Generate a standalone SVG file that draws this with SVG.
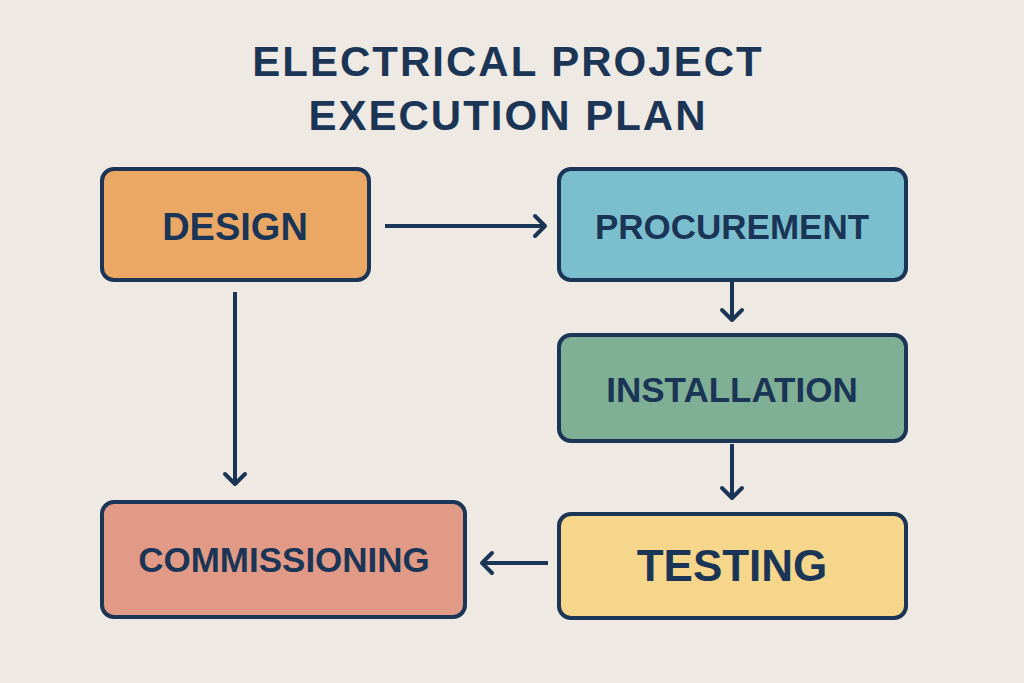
<svg xmlns="http://www.w3.org/2000/svg" width="1024" height="683" viewBox="0 0 1024 683">
<style>
.b{stroke:#1B3556;stroke-width:4}
.t{font-family:"Liberation Sans",Arial,sans-serif;font-weight:bold;fill:#1B3556;text-anchor:middle}
.c{stroke:#1B3556;stroke-width:4;fill:none;marker-end:url(#a)}
</style>
<defs><marker id="a" markerWidth="22" markerHeight="26" refX="18" refY="13" orient="auto" markerUnits="userSpaceOnUse" viewBox="0 0 22 26"><path d="M8,3 L18,13 L8,23" fill="none" stroke="#1B3556" stroke-width="4" stroke-linecap="round" stroke-linejoin="round"/></marker></defs>
<rect width="1024" height="683" fill="#EEE9E2"/>
<g id="title"><text class="t" x="508" y="76" font-size="42" letter-spacing="2">ELECTRICAL PROJECT</text><text class="t" x="508" y="130" font-size="42" letter-spacing="2">EXECUTION PLAN</text></g>
<g id="design"><rect class="b" x="102" y="169" width="267" height="111" rx="12" fill="#EBA865"/><text class="t" x="235" y="240" font-size="38">DESIGN</text></g>
<g id="procurement"><rect class="b" x="559" y="169" width="347" height="111" rx="12" fill="#7BBFCF"/><text class="t" x="732" y="239" font-size="35">PROCUREMENT</text></g>
<g id="installation"><rect class="b" x="559" y="335" width="347" height="106" rx="12" fill="#7FAF95"/><text class="t" x="732" y="402" font-size="35">INSTALLATION</text></g>
<g id="testing"><rect class="b" x="559" y="514" width="347" height="104" rx="12" fill="#F5D68A"/><text class="t" x="732" y="581" font-size="44">TESTING</text></g>
<g id="commissioning"><rect class="b" x="102" y="502" width="363" height="115" rx="12" fill="#E09A85"/><text class="t" x="284" y="572" font-size="35">COMMISSIONING</text></g>
<g id="connectors">
<path class="c" d="M385,226 H545"/>
<path class="c" d="M732,282 V320"/>
<path class="c" d="M732,444 V498"/>
<path class="c" d="M548,563 H482"/>
<path class="c" d="M235,292 V484"/>
</g>
</svg>
